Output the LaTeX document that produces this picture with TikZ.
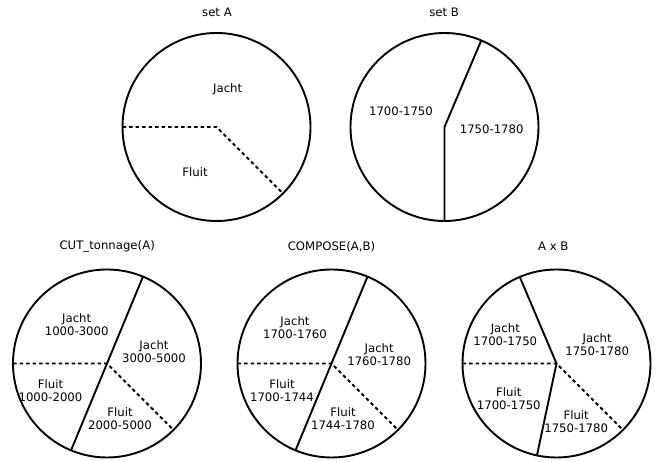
\documentclass[tikz,border=0pt]{standalone}
\usepackage{fontspec}
\setmainfont{DejaVu Sans}
\usepackage{tikz}
\usetikzlibrary{calc}
\tikzstyle{pie} = [line width=1.9pt]
\tikzstyle{cut} = [line width=1.9pt, dash pattern=on 3.5pt off 3pt]
\tikzstyle{lbl} = [align=center, inner sep=0pt, font=\fontsize{11.7}{13}\selectfont]

\begin{document}
\begin{tikzpicture}[x=1pt, y=1pt]

\useasboundingbox (0, 0) rectangle (657, 462);

% centres of the pies
\coordinate (cA) at (216.5, 335);
\coordinate (cB) at (444.5, 335);
\coordinate (cCut) at (107, 98.5);
\coordinate (cComp) at (331.5, 98.5);
\coordinate (cProd) at (556.5, 98.5);

% set A
\node [lbl] (tA) at (217, 449.7) {set A};
\draw [pie] (cA) circle [radius=94pt];
\draw [cut] ($(cA)+(180:94)$) -- (cA) -- ($(cA)+(-45:94)$);
\node [lbl] (aJacht) at (227.7, 373) {Jacht};
\node [lbl] (aFluit) at (195, 290.3) {Fluit};

% set B
\node [lbl] (tB) at (444.2, 449.7) {set B};
\draw [pie] (cB) circle [radius=94pt];
\draw [pie] ($(cB)+(270:94)$) -- (cB) -- ($(cB)+(67:94)$);
\node [lbl] (bEarly) at (401, 350.3) {1700-1750};
\node [lbl] (bLate) at (491.7, 332.7) {1750-1780};

% CUT_tonnage(A)
\node [lbl] (tCut) at (107.2, 215.3) {CUT\_tonnage(A)};
\draw [pie] (cCut) circle [radius=94pt];
\draw [cut] ($(cCut)+(180:94)$) -- (cCut) -- ($(cCut)+(-45:94)$);
\draw [pie] ($(cCut)+(247.5:94)$) -- ($(cCut)+(67.5:94)$);
\node [lbl] (cutJ1) at (76.7, 137.8) {Jacht\\1000-3000};
\node [lbl] (cutJ2) at (154, 110) {Jacht\\3000-5000};
\node [lbl] (cutF1) at (50.5, 71.3) {Fluit\\1000-2000};
\node [lbl] (cutF2) at (120, 43.3) {Fluit\\2000-5000};

% COMPOSE(A,B)
\node [lbl] (tComp) at (331.5, 215.3) {COMPOSE(A,B)};
\draw [pie] (cComp) circle [radius=94pt];
\draw [cut] ($(cComp)+(180:94)$) -- (cComp) -- ($(cComp)+(-45:94)$);
\draw [pie] ($(cComp)+(247.5:94)$) -- ($(cComp)+(67.5:94)$);
\node [lbl] (compJ1) at (295, 134.8) {Jacht\\1700-1760};
\node [lbl] (compJ2) at (379.2, 107.3) {Jacht\\1760-1780};
\node [lbl] (compF1) at (282, 71.7) {Fluit\\1700-1744};
\node [lbl] (compF2) at (343, 43.2) {Fluit\\1744-1780};

% A x B
\node [lbl] (tProd) at (553.3, 215.3) {A x B};
\draw [pie] (cProd) circle [radius=94pt];
\draw [cut] ($(cProd)+(180:94)$) -- (cProd) -- ($(cProd)+(-45:94)$);
\draw [pie] ($(cProd)+(113:94)$) -- (cProd) -- ($(cProd)+(258:94)$);
\node [lbl] (prodJ1) at (505.3, 127.5) {Jacht\\1700-1750};
\node [lbl] (prodJ2) at (597.2, 117.5) {Jacht\\1750-1780};
\node [lbl] (prodF1) at (508.8, 63.3) {Fluit\\1700-1750};
\node [lbl] (prodF2) at (576.2, 40.3) {Fluit\\1750-1780};

\end{tikzpicture}
\end{document}
